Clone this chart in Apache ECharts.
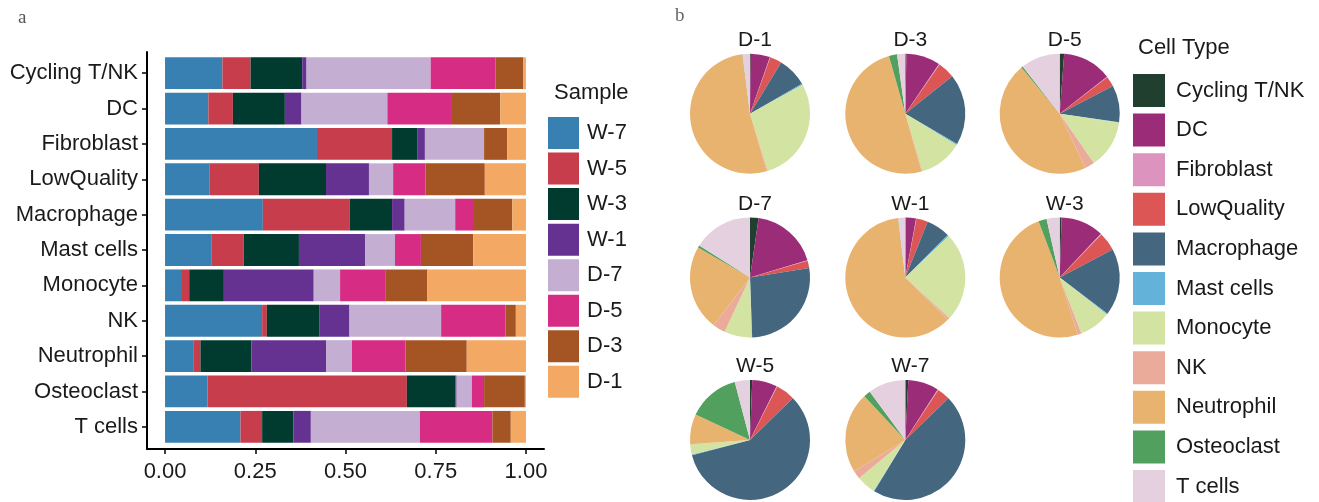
<!DOCTYPE html>
<html>
<head>
<meta charset="utf-8">
<script src="https://cdn.jsdelivr.net/npm/echarts@6/dist/echarts.min.js"></script>
<style>
html,body{margin:0;padding:0;background:#fff;}
#c{width:1319px;height:502px;}
</style>
</head>
<body>
<div id="c"></div>
<script>
// ---------- Data ----------
const cellTypes = ['Cycling T/NK','DC','Fibroblast','LowQuality','Macrophage','Mast cells','Monocyte','NK','Neutrophil','Osteoclast','T cells'];
const samples = ['W-7','W-5','W-3','W-1','D-7','D-5','D-3','D-1'];
const xTicks = [0, 0.25, 0.5, 0.75, 1];

// Panel a: proportion of each cell type coming from each sample (order follows cellTypes)
const W7 = [0.159, 0.120, 0.421, 0.124, 0.271, 0.128, 0.047, 0.269, 0.078, 0.118, 0.209];
const W5 = [0.078, 0.068, 0.208, 0.136, 0.241, 0.090, 0.020, 0.013, 0.020, 0.552, 0.060];
const W3 = [0.143, 0.144, 0.071, 0.186, 0.117, 0.153, 0.096, 0.145, 0.141, 0.134, 0.087];
const W1 = [0.012, 0.046, 0.020, 0.119, 0.035, 0.183, 0.249, 0.084, 0.208, 0.004, 0.048];
const D7 = [0.344, 0.238, 0.164, 0.067, 0.140, 0.083, 0.073, 0.254, 0.071, 0.042, 0.302];
const D5 = [0.180, 0.179, 0.000, 0.090, 0.052, 0.072, 0.125, 0.178, 0.148, 0.034, 0.201];
const D3 = [0.077, 0.134, 0.064, 0.164, 0.106, 0.145, 0.117, 0.029, 0.170, 0.113, 0.051];
const D1 = [0.007, 0.071, 0.052, 0.114, 0.038, 0.146, 0.273, 0.028, 0.164, 0.003, 0.042];

// Panel b: composition (%) of each sample by cell type (order follows cellTypes)
const pieOrder = ['D-1','D-3','D-5','D-7','W-1','W-3','W-5','W-7'];
const pieD1 = [0.2, 5.2, 0.1, 3.2, 8.0, 0.3, 28.2, 0.3, 52.4, 0.1, 2.0];
const pieD3 = [0.3, 9.2, 0.2, 4.6, 19.1, 0.3, 11.7, 0.2, 50.0, 2.2, 2.2];
const pieD5 = [1.2, 13.3, 0.1, 2.8, 9.9, 0.15, 13.0, 2.6, 46.1, 0.45, 10.6];
const pieD7 = [2.3, 18.1, 0.1, 2.0, 27.0, 0.15, 7.4, 3.4, 23.0, 0.6, 16.1];
const pieW1 = [0.1, 2.8, 0.1, 3.1, 6.4, 0.4, 24.0, 0.6, 60.6, 0.1, 1.9];
const pieW3 = [0.5, 11.5, 0.2, 5.0, 18.0, 0.3, 8.5, 1.0, 49.0, 2.2, 3.5];
const pieW5 = [0.6, 6.75, 0.2, 5.2, 58.4, 0.2, 2.7, 0.05, 8.1, 14.0, 4.1];
const pieW7 = [0.8, 8.3, 0.2, 3.5, 46.0, 0.2, 5.1, 2.3, 21.8, 1.9, 10.1];

// ---------- Styles ----------
const sampleColors = ['#3780B1','#C73D4C','#013A2F','#663291','#C4AFD2','#D72C83','#A55524','#F3A863'];
const cellColors = ['#213F2E','#9B2C77','#DC93BD','#DC5656','#44667F','#62B2D9','#D3E3A1','#EBAB9B','#E8B36E','#52A05E','#E4D0DE'];
const FONT = "'Liberation Sans', Arial, sans-serif";
const TXT = '#1a1a1a';

const barData = [W7, W5, W3, W1, D7, D5, D3, D1];
const pieData = [pieD1, pieD3, pieD5, pieD7, pieW1, pieW3, pieW5, pieW7];
const pieCenters = [[750,113.7],[905.3,113.7],[1059.7,113.7],[750,277.5],[905.3,277.5],[1059.7,277.5],[750,440],[905.3,440]];

const series = [];
samples.forEach((s, i) => {
  series.push({
    type: 'bar', name: s, stack: 'total', xAxisIndex: 0, yAxisIndex: 0,
    barCategoryGap: '10%',
    itemStyle: { color: sampleColors[i] },
    data: barData[i]
  });
});
pieOrder.forEach((s, i) => {
  series.push({
    type: 'pie', name: s, center: pieCenters[i], radius: 60,
    startAngle: 90, clockwise: true, silent: true,
    label: { show: false }, labelLine: { show: false },
    itemStyle: { borderWidth: 0 },
    data: cellTypes.map((c, j) => ({ name: c, value: pieData[i][j], itemStyle: { color: cellColors[j] } }))
  });
});

const titles = [
  { text: 'a', left: 13, top: 4, textStyle: { fontFamily: "'Liberation Serif', serif", fontSize: 19, fontWeight: 'normal', color: '#555' } },
  { text: 'b', left: 670, top: 2, textStyle: { fontFamily: "'Liberation Serif', serif", fontSize: 19, fontWeight: 'normal', color: '#666' } },
  { text: 'Sample', left: 549, top: 77, textStyle: { fontFamily: FONT, fontSize: 22, fontWeight: 'normal', color: TXT } },
  { text: 'Cell Type', left: 1133, top: 32, textStyle: { fontFamily: FONT, fontSize: 22, fontWeight: 'normal', color: TXT } }
];
pieOrder.forEach((s, i) => {
  titles.push({ text: s, left: pieCenters[i][0], top: pieCenters[i][1] - 60 - 29, textAlign: 'center',
    textStyle: { fontFamily: FONT, fontSize: 21, fontWeight: 'normal', color: TXT } });
});

const option = {
  animation: false,
  title: titles,
  legend: [
    { data: samples, orient: 'vertical', left: 548, top: 117, itemWidth: 31, itemHeight: 32, itemGap: 3.55,
      icon: 'rect', selectedMode: false, padding: 0,
      textStyle: { fontFamily: FONT, fontSize: 22, color: TXT, padding: [0,0,0,3] } },
    { data: cellTypes, orient: 'vertical', left: 1133, top: 74, height: 600, itemWidth: 32, itemHeight: 33, itemGap: 6.6,
      icon: 'rect', selectedMode: false, padding: 0,
      textStyle: { fontFamily: FONT, fontSize: 22, color: TXT, padding: [0,0,0,6] } }
  ],
  grid: [
    { left: 147, width: 397, top: 55.5, height: 389 },
    { left: 147, width: 397, top: 52, height: 397 }
  ],
  xAxis: [
    { gridIndex: 0, type: 'value', min: -0.05, max: 1.05, show: false },
    { gridIndex: 1, type: 'value', min: -0.05, max: 1.05,
      axisLine: { show: true, onZero: false, lineStyle: { color: '#000', width: 2 } },
      axisTick: { show: true, customValues: xTicks, length: 5, lineStyle: { color: '#000', width: 1.5 } },
      axisLabel: { show: true, customValues: xTicks, margin: 12, formatter: v => v.toFixed(2),
        fontFamily: FONT, fontSize: 22, color: TXT },
      splitLine: { show: false } }
  ],
  yAxis: [
    { gridIndex: 0, type: 'category', data: cellTypes, inverse: true,
      axisLine: { show: false, onZero: false },
      axisTick: { show: true, alignWithLabel: true, length: 5, lineStyle: { color: '#000', width: 1.5 } },
      axisLabel: { margin: 9, fontFamily: FONT, fontSize: 22, color: TXT },
      splitLine: { show: false } },
    { gridIndex: 1, type: 'value', min: 0, max: 1,
      axisLine: { show: true, onZero: false, lineStyle: { color: '#000', width: 2 } },
      axisTick: { show: false }, axisLabel: { show: false }, splitLine: { show: false } }
  ],
  series: series
};

const chart = echarts.init(document.getElementById('c'), null, { renderer: 'canvas' });
chart.setOption(option);
</script>
</body>
</html>
